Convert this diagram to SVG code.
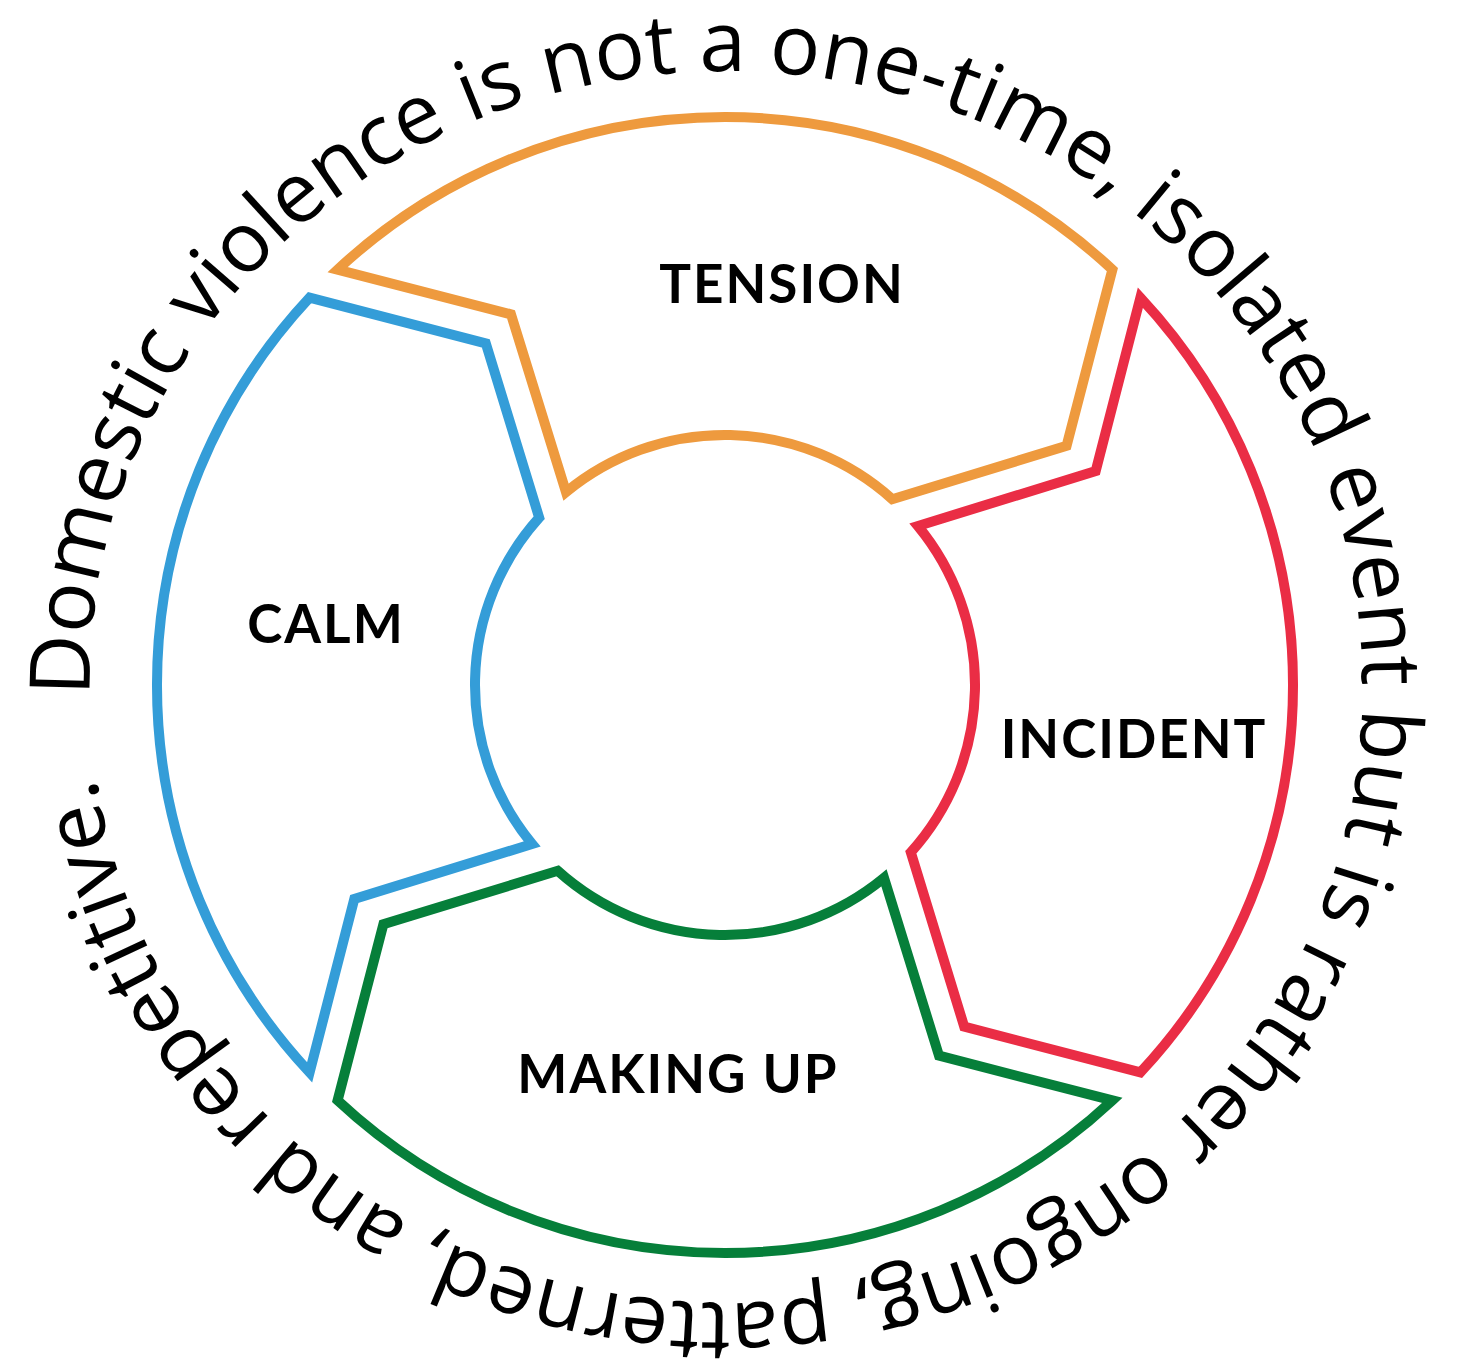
<svg xmlns="http://www.w3.org/2000/svg" xmlns:xlink="http://www.w3.org/1999/xlink" width="1458" height="1365" viewBox="0 0 1458 1365">
  <style>
    .seg { fill: #ffffff; stroke-width: 10; stroke-linejoin: miter; stroke-miterlimit: 10; }
    .label { font-family: "Lato", "Liberation Sans", sans-serif; font-weight: 700; font-size: 53px; fill: #000000; text-anchor: middle; letter-spacing: 2px; }
    .caption { font-family: "Open Sans", "Liberation Sans", sans-serif; font-weight: 400; font-size: 83.8px; fill: #000000; }
  </style>
  <defs>
    <path id="segShape" d="M 337.6 269.6 A 568 568 0 0 1 1112.4 269.6 L 1066.6 445.8 L 892.3 499.2 A 250 250 0 0 0 566.0 492.1 L 511 314.3 Z"/>
    <path id="captionPath" d="M 90.1 696 A 636 610 0 1 1 1361.9 678 A 636 610 0 1 1 90.1 696"/>
  </defs>
  <rect width="1458" height="1365" fill="#ffffff"/>

  <g id="tension">
    <use xlink:href="#segShape" href="#segShape" class="seg" stroke="#EE9A3E"/>
    <text class="label" x="782" y="303">TENSION</text>
  </g>
  <g id="incident">
    <use xlink:href="#segShape" href="#segShape" class="seg" stroke="#EA2D45" transform="rotate(90 725 685)"/>
    <text class="label" x="1134" y="758">INCIDENT</text>
  </g>
  <g id="making-up">
    <use xlink:href="#segShape" href="#segShape" class="seg" stroke="#067F3A" transform="rotate(180 725 685)"/>
    <text class="label" x="678" y="1093">MAKING UP</text>
  </g>
  <g id="calm">
    <use xlink:href="#segShape" href="#segShape" class="seg" stroke="#349DD8" transform="rotate(270 725 685)"/>
    <text class="label" x="326" y="643">CALM</text>
  </g>

  <g id="connectors"></g>

  <g id="caption">
    <text class="caption"><textPath xlink:href="#captionPath" href="#captionPath">Domestic violence is not a one-time, isolated event but is rather ongoing, patterned, and repetitive.</textPath></text>
  </g>
</svg>
